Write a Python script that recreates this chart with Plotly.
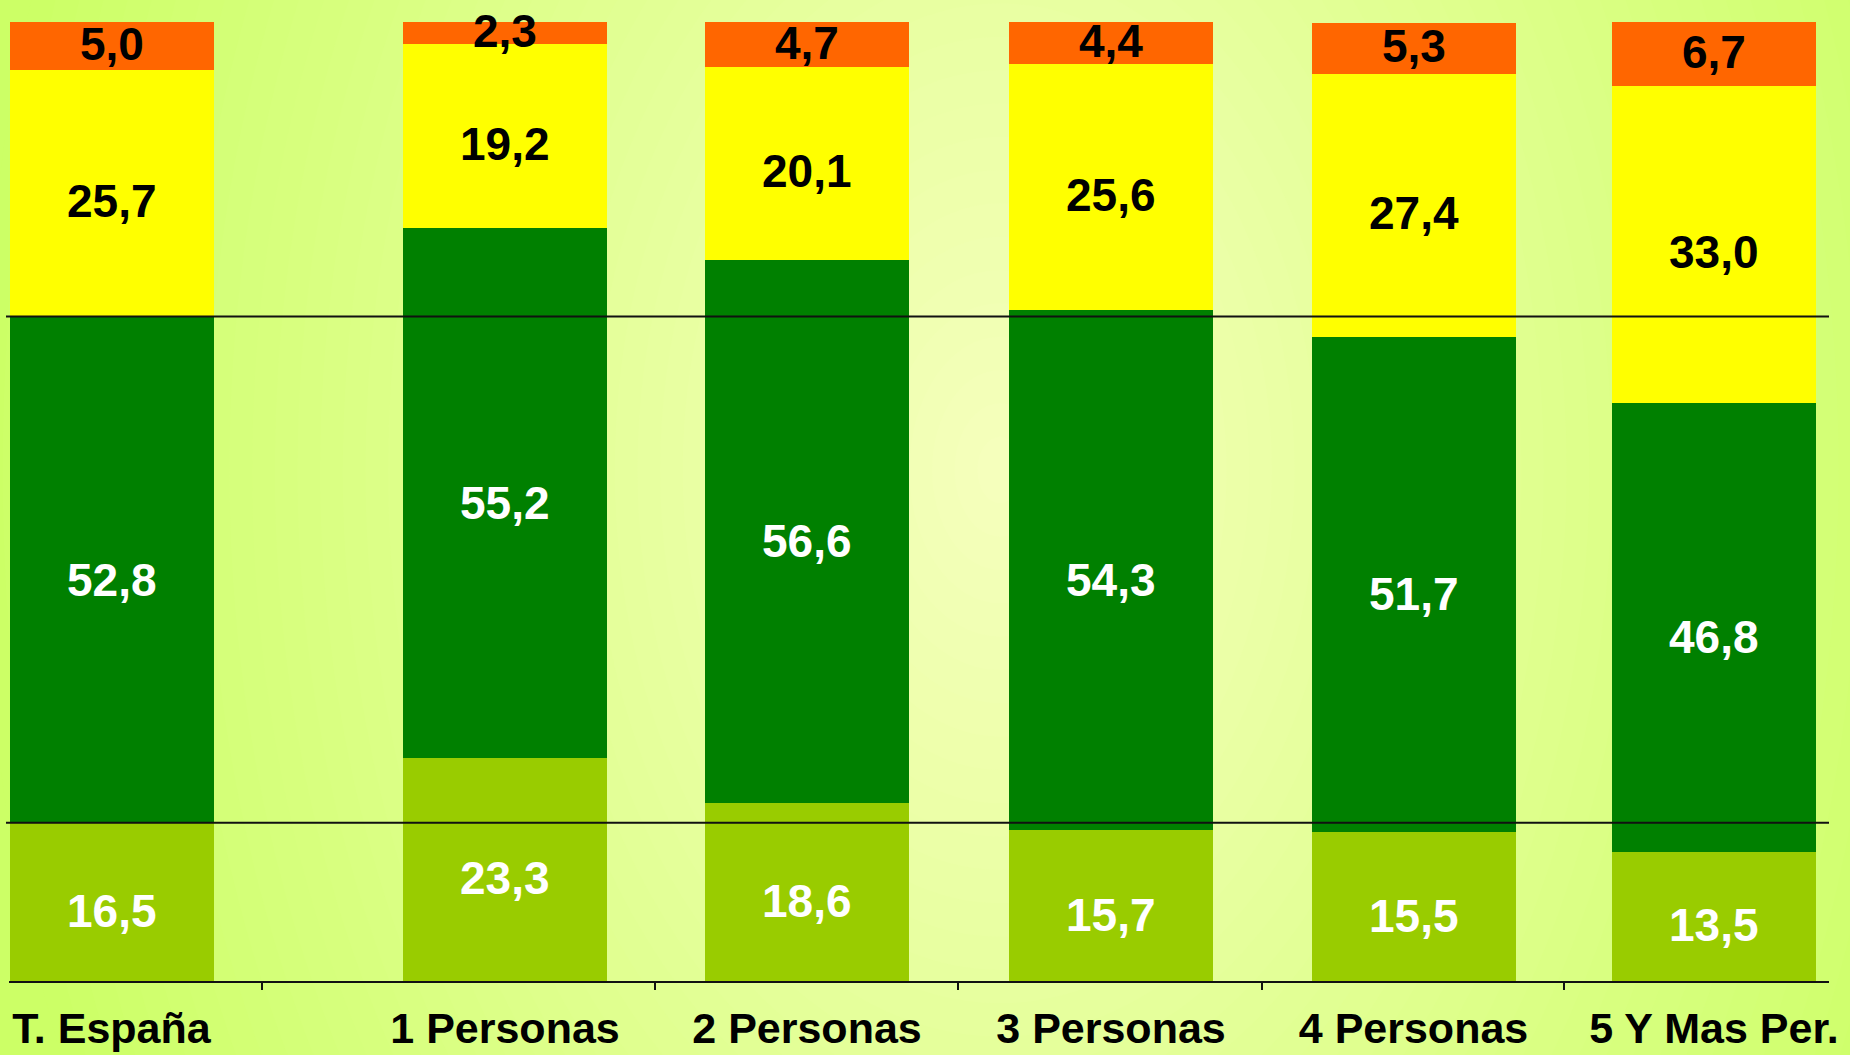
import plotly.graph_objects as go

# ---- data ----
CATEGORIES = ["T. España", "1 Personas", "2 Personas", "3 Personas", "4 Personas", "5 Y Mas Per."]
S_BOTTOM = [16.5, 23.3, 18.6, 15.7, 15.5, 13.5]   # light green
S_MID = [52.8, 55.2, 56.6, 54.3, 51.7, 46.8]      # dark green
S_UPPER = [25.7, 19.2, 20.1, 25.6, 27.4, 33.0]    # yellow
S_TOP = [5.0, 2.3, 4.7, 4.4, 5.3, 6.7]            # orange

# ---- layout constants (pixel-like x units) ----
X_POS = [111.5, 505, 807, 1111, 1413.5, 1714]
SEP_TICKS = [262, 655, 958, 1262, 1564]
BAR_W = 204
W, H = 1850, 1055
ML, MR, MT, MB = 9, 21, 22, 74
X0, X1 = ML, W - MR

FONT = "Liberation Sans, Arial, sans-serif"


def fmt(v):
    return f"{v:.1f}".replace(".", ",")


fig = go.Figure()
series = [
    (S_BOTTOM, "#99CC00", "white", -9),
    (S_MID, "#008000", "white", -10),
    (S_UPPER, "#FFFF00", "black", -8),
    (S_TOP, "#FF6600", "black", 2),
]
annotations = []
base = [0.0] * len(CATEGORIES)
for vals, col, tcol, yshift in series:
    fig.add_trace(go.Bar(
        x=X_POS, y=vals, width=BAR_W,
        marker=dict(color=col, line=dict(width=0)),
        showlegend=False, hoverinfo="skip",
    ))
    for i, v in enumerate(vals):
        annotations.append(dict(
            x=X_POS[i], y=base[i] + v / 2, xref="x", yref="y",
            text=fmt(v), showarrow=False, yshift=yshift,
            font=dict(family=FONT, size=46, color=tcol, weight="bold"),
        ))
        base[i] += v

# ---- background radial gradient (decoration) ----
pw, ph = X1 - X0, H - MB - MT


def px2paper(xp, yp):
    return (xp - X0) / pw, (H - MB - yp) / ph


c_center = (246, 255, 190)
c_edge = (204, 255, 102)
cx, cy = 1000, 470
rx, ry = 1020, 1500
N = 45
shapes = []
for i in range(N, 0, -1):
    t = i / N
    col = tuple(round(c_center[k] + (c_edge[k] - c_center[k]) * t) for k in range(3))
    ax0, ay0 = px2paper(cx - rx * t, cy + ry * t)
    ax1, ay1 = px2paper(cx + rx * t, cy - ry * t)
    shapes.append(dict(type="circle", xref="paper", yref="paper", layer="below",
                       x0=ax0, x1=ax1, y0=ay0, y1=ay1,
                       fillcolor=f"rgb{col}", line=dict(width=0)))

# reference lines at T. España cumulative levels
ref1 = S_BOTTOM[0]
ref2 = S_BOTTOM[0] + S_MID[0]
for yv in (ref1, ref2):
    shapes.append(dict(type="line", xref="paper", yref="y", layer="above",
                       x0=px2paper(6, 0)[0], x1=1.0, y0=yv, y1=yv,
                       line=dict(color="#111111", width=2)))

# separator tick marks on the category axis
for xt in SEP_TICKS:
    shapes.append(dict(type="line", xref="x", yref="paper", layer="above",
                       x0=xt, x1=xt, y0=0, y1=-9 / ph,
                       line=dict(color="#111111", width=2)))

fig.update_layout(
    width=W, height=H,
    barmode="stack", bargap=0,
    margin=dict(l=ML, r=MR, t=MT, b=MB, autoexpand=False),
    paper_bgcolor="rgb(204,255,102)",
    plot_bgcolor="rgba(0,0,0,0)",
    shapes=shapes,
    annotations=annotations,
    xaxis=dict(range=[X0, X1], tickvals=X_POS, ticktext=CATEGORIES, ticks="",
               showgrid=False, zeroline=False, showline=True, linecolor="#111111",
               linewidth=2, ticklabelstandoff=8, automargin=False,
               tickfont=dict(family=FONT, size=43, color="black", weight="bold")),
    yaxis=dict(range=[0, 100], visible=False, showgrid=False, zeroline=False,
               automargin=False),
)

fig.write_html("out.html")
